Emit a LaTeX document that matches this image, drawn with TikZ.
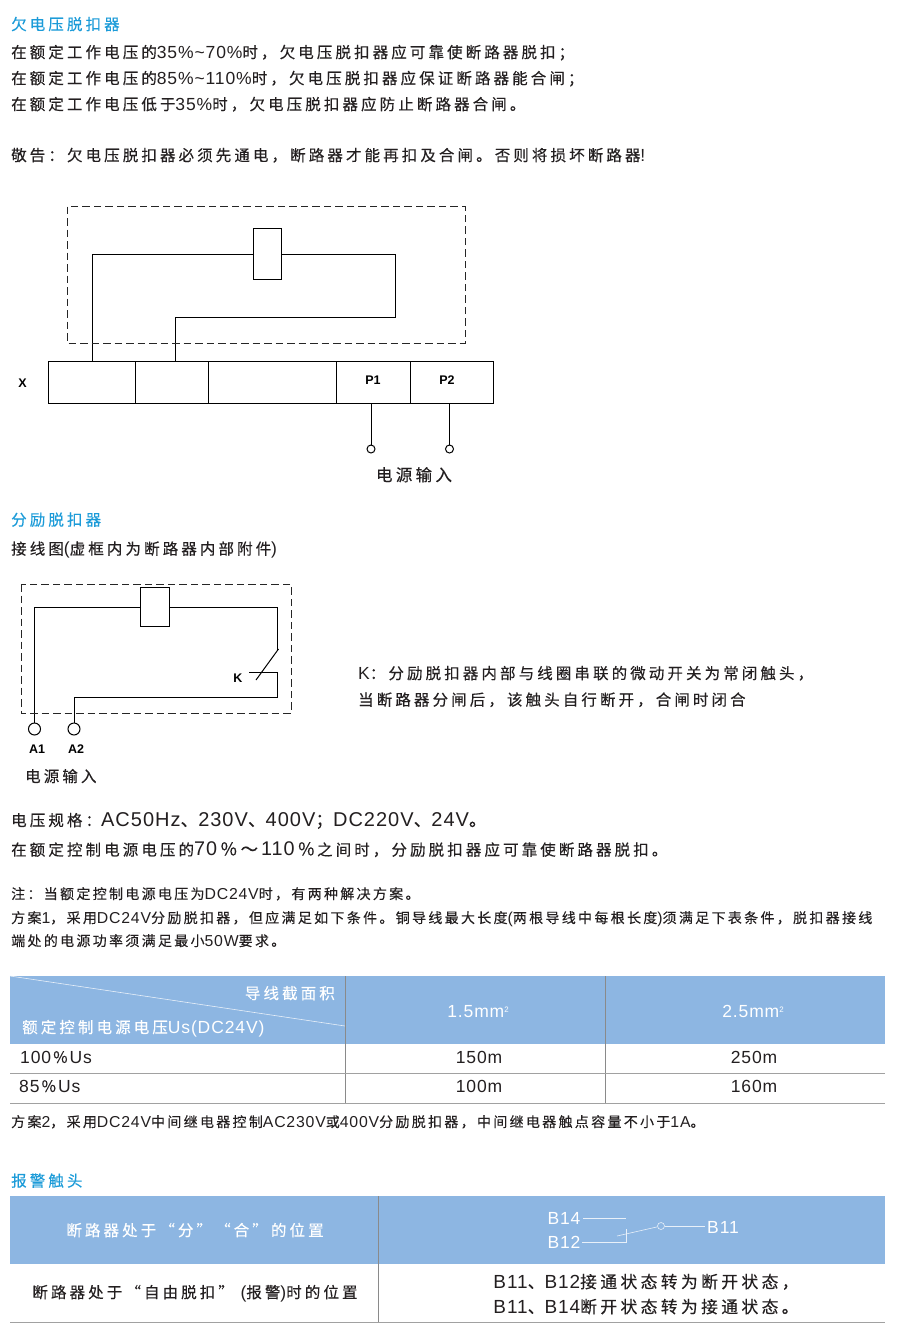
\documentclass[tikz,border=0pt]{standalone}
\usepackage{fontspec}
\usepackage{tikz}
\usetikzlibrary{calc,positioning}
\setmainfont{Noto Sans CJK SC}
\newfontfamily\cjkwide[LetterSpace=20,FakeBold=0.3]{Noto Sans CJK SC}
\newfontfamily\cjknote[LetterSpace=16.5,FakeBold=0.2]{Noto Sans CJK SC}
\newfontfamily\latwide[LetterSpace=5,Scale=1.13]{Liberation Sans}
\newfontfamily\latinfont{Liberation Sans}
\newcommand{\lat}[1]{{\latwide #1}}
\newcommand{\cma}{\symbol{"FF0C}}
\newcommand{\cln}{\symbol{"FF1A}}
\newcommand{\smi}{\symbol{"FF1B}}
\newcommand{\pct}{\symbol{"FF05}}
\newcommand{\wav}{\symbol{"FF5E}}
\definecolor{headblue}{HTML}{1C9BD8}
\definecolor{tableblue}{HTML}{8DB6E2}
\definecolor{inkgray}{HTML}{231F20}
\definecolor{rulegray}{HTML}{8A8A8A}
\tikzset{
  txt/.style={anchor=base west,inner sep=0pt,text=inkgray,font=\cjkwide\fontsize{15.5}{18}\selectfont},
  heading/.style={txt,text=headblue},
  note/.style={txt,font=\cjknote\fontsize{14}{16}\selectfont},
  cell/.style={anchor=base,inner sep=0pt,text=inkgray,font=\cjkwide\fontsize{15.5}{18}\selectfont},
  bigcell/.style={cell,font=\cjkwide\fontsize{16.8}{18}\selectfont},
  headcell/.style={cell,text=white},
  tag/.style={inner sep=0pt,text=black,font=\latinfont\bfseries\fontsize{12.5}{14}\selectfont},
  wire/.style={line width=1pt,black},
  frame/.style={line width=0.9pt,dash pattern=on 7.5pt off 4pt,black!85},
  coil/.style={draw,line width=1pt,inner sep=0pt,anchor=north west},
  strip/.style={draw,line width=1pt,inner sep=0pt,anchor=north west,minimum height=41.5pt},
  pin/.style={draw,circle,line width=1pt,inner sep=0pt,fill=white},
  thinw/.style={line width=0.6pt,white!80!tableblue}
}
\begin{document}
\begin{tikzpicture}[x=1pt,y=-1pt]
  \useasboundingbox (0,0) rectangle (900,1326);

  % top text
  \node[heading] (titleA) at (11,30) {欠电压脱扣器};
  \node[txt] (lineA) at (11,58) {在额定工作电压的\lat{35\%\textasciitilde 70\%}时\cma{}欠电压脱扣器应可靠使断路器脱扣\smi{}};
  \node[txt] (lineB) at (11,84) {在额定工作电压的\lat{85\%\textasciitilde 110\%}时\cma{}欠电压脱扣器应保证断路器能合闸\smi{}};
  \node[txt] (lineC) at (11,110) {在额定工作电压低于\lat{35\%}时\cma{}欠电压脱扣器应防止断路器合闸。};
  \node[txt] (warn) at (11,161) {敬告\cln{}欠电压脱扣器必须先通电\cma{}断路器才能再扣及合闸。否则将损坏断路器\lat{!}};

  % first wiring diagram
  \node[coil,minimum width=28.5pt,minimum height=51pt] (coilA) at (252.5,228) {};
  \node[strip,minimum width=86.5pt] (cellA) at (48,361) {};
  \node[strip,minimum width=73.5pt] (cellB) at (134.5,361) {};
  \node[strip,minimum width=128pt] (cellC) at (208,361) {};
  \node[strip,minimum width=74pt] (cellP) at (336,361) {};
  \node[strip,minimum width=82.5pt] (cellQ) at (410,361) {};
  \node[tag] (tagX) at (22.5,383) {X};
  \node[tag] (tagP) at (373,380) {P1};
  \node[tag] (tagQ) at (447,380) {P2};
  \node[pin,minimum size=8pt] (pinP) at (371,449) {};
  \node[pin,minimum size=8pt] (pinQ) at (449.5,449) {};
  \coordinate (feedA) at (92.5,361);
  \coordinate (feedB) at (175.5,361);
  \coordinate (bendA) at (395.5,317);
  \draw[wire] (coilA.west) -| (feedA);
  \draw[wire] (coilA.east) -| (bendA) -| (feedB);
  \draw[wire] (pinP) -- (pinP |- cellP.south);
  \draw[wire] (pinQ) -- (pinQ |- cellQ.south);
  \draw[frame] (67,206.5) rectangle (465,343);
  \node[cell,font=\cjkwide\fontsize{16.5}{18}\selectfont] (inA) at (414,481) {电源输入};

  % second block
  \node[heading] (titleB) at (11,525.5) {分励脱扣器};
  \node[txt] (wiring) at (11,554.5) {接线图\lat{(}虚框内为断路器内部附件\lat{)}};

  \node[coil,minimum width=29pt,minimum height=39pt] (coilB) at (140,587) {};
  \node[pin,minimum size=12pt] (pinA) at (34.5,729) {};
  \node[pin,minimum size=12pt] (pinB) at (74,729) {};
  \node[tag] (tagA) at (37,749) {A1};
  \node[tag] (tagB) at (76,749) {A2};
  \node[tag] (tagK) at (238,678) {K};
  \coordinate (swTop) at (278.5,649);
  \coordinate (swEnd) at (256,680);
  \coordinate (swJoin) at (277.5,651);
  \coordinate (fixA) at (249,672);
  \coordinate (bendC) at (277.5,672);
  \coordinate (bendD) at (277.5,697.5);
  \draw[wire] (coilB.west) -| (pinA);
  \draw[wire] (coilB.east) -| (swJoin);
  \draw[wire] (swTop) -- (swEnd);
  \draw[wire] (fixA) -- (bendC) -- (bendD) -| (pinB);
  \draw[frame] (21,584) rectangle (291,713);
  \node[txt] (inB) at (25,782) {电源输入};
  \node[txt] (noteK) at (358,679) {\lat{K}\cln{}分励脱扣器内部与线圈串联的微动开关为常闭触头\cma{}};
  \node[txt] (noteL) at (358,705.5) {当断路器分闸后\cma{}该触头自行断开\cma{}合闸时闭合};

  \node[txt] (spec) at (11,826) {电压规格\cln{}{\fontsize{17.7}{20}\selectfont\lat{AC50Hz}、\lat{230V}、\lat{400V}\smi{}\lat{DC220V}、\lat{24V}。}};
  \node[txt] (range) at (11,855.5) {在额定控制电源电压的{\fontsize{17.5}{20}\selectfont\lat{70}\kern3pt\pct{}\kern3pt\wav{}\kern3pt\lat{110}\kern3pt\pct{}\kern2pt}之间时\cma{}分励脱扣器应可靠使断路器脱扣。};
  \node[note] (noteA) at (11,899) {注\cln{}当额定控制电源电压为\lat{DC24V}时\cma{}有两种解决方案。};
  \node[note] (noteB) at (11,923) {方案\lat{1}\cma{}采用\lat{DC24V}分励脱扣器\cma{}但应满足如下条件。铜导线最大长度\lat{(}两根导线中每根长度\lat{)}须满足下表条件\cma{}脱扣器接线};
  \node[note] (noteC) at (11,946) {端处的电源功率须满足最小\lat{50W}要求。};

  % cable table
  \fill[tableblue] (10,976) rectangle (885,1044);
  \draw[thinw] (10,976) -- (345,1026);
  \draw[line width=0.8pt,rulegray] (345,976) -- (345,1103);
  \draw[line width=0.8pt,rulegray] (605,976) -- (605,1103);
  \draw[line width=0.8pt,rulegray!80] (10,1073) -- (885,1073);
  \draw[line width=0.8pt,rulegray!80] (10,1103) -- (885,1103);
  \node[headcell,anchor=base east] (headA) at (335,999) {导线截面积};
  \node[headcell,anchor=base west] (headB) at (22,1033) {额定控制电源电压\lat{Us(DC24V)}};
  \node[headcell] (headC) at (478,1017) {\lat{1.5mm\raisebox{5pt}{\fontsize{7}{9}\selectfont 2}}};
  \node[headcell] (headD) at (753,1017) {\lat{2.5mm\raisebox{5pt}{\fontsize{7}{9}\selectfont 2}}};
  \node[cell,anchor=base west] (rowA) at (20,1063) {\lat{100}\kern1.5pt\pct{}\kern1.5pt\lat{Us}};
  \node[cell,anchor=base west] (rowB) at (19,1092) {\lat{85}\kern1.5pt\pct{}\kern1.5pt\lat{Us}};
  \node[cell] (valA) at (479,1063) {\lat{150m}};
  \node[cell] (valB) at (754,1063) {\lat{250m}};
  \node[cell] (valC) at (479,1092) {\lat{100m}};
  \node[cell] (valD) at (754,1092) {\lat{160m}};
  \node[note] (noteD) at (11,1127) {方案\lat{2}\cma{}采用\lat{DC24V}中间继电器控制\lat{AC230V}或\lat{400V}分励脱扣器\cma{}中间继电器触点容量不小于\lat{1A}。};

  % alarm table
  \node[heading] (titleC) at (11,1186.5) {报警触头};
  \fill[tableblue] (10,1196) rectangle (885,1264);
  \draw[line width=0.8pt,rulegray] (378,1196) -- (378,1322);
  \draw[line width=0.8pt,rulegray!80] (10,1322) -- (885,1322);
  \node[headcell] (posA) at (195,1236) {断路器处于“分”“合”的位置};
  \node[cell] (posB) at (195,1298) {断路器处于“自由脱扣” \lat{(}报警\lat{)}时的位置};
  \node[bigcell] (stateA) at (646,1288) {\lat{B11}、\lat{B12}接通状态转为断开状态\cma{}};
  \node[bigcell] (stateB) at (646,1313) {\lat{B11}、\lat{B14}断开状态转为接通状态。};
  \node[headcell] (labD) at (564,1224) {\lat{B14}};
  \node[headcell] (labE) at (564,1248) {\lat{B12}};
  \node[headcell] (labC) at (723,1233) {\lat{B11}};
  \node[circle,draw=white!80!tableblue,line width=0.6pt,inner sep=0pt,minimum size=7pt] (hub) at (661,1226) {};
  \coordinate (startD) at (583,1218);
  \coordinate (stubD) at (626,1218);
  \coordinate (startE) at (582,1242);
  \coordinate (stubE) at (626.5,1242);
  \coordinate (tipE) at (626.5,1229);
  \coordinate (blade) at (617,1236);
  \coordinate (stubC) at (705,1226);
  \draw[thinw] (startD) -- (stubD);
  \draw[thinw] (startE) -- (stubE) -- (tipE);
  \draw[thinw] (blade) -- (hub);
  \draw[thinw] (hub) -- (stubC);
\end{tikzpicture}
\end{document}
